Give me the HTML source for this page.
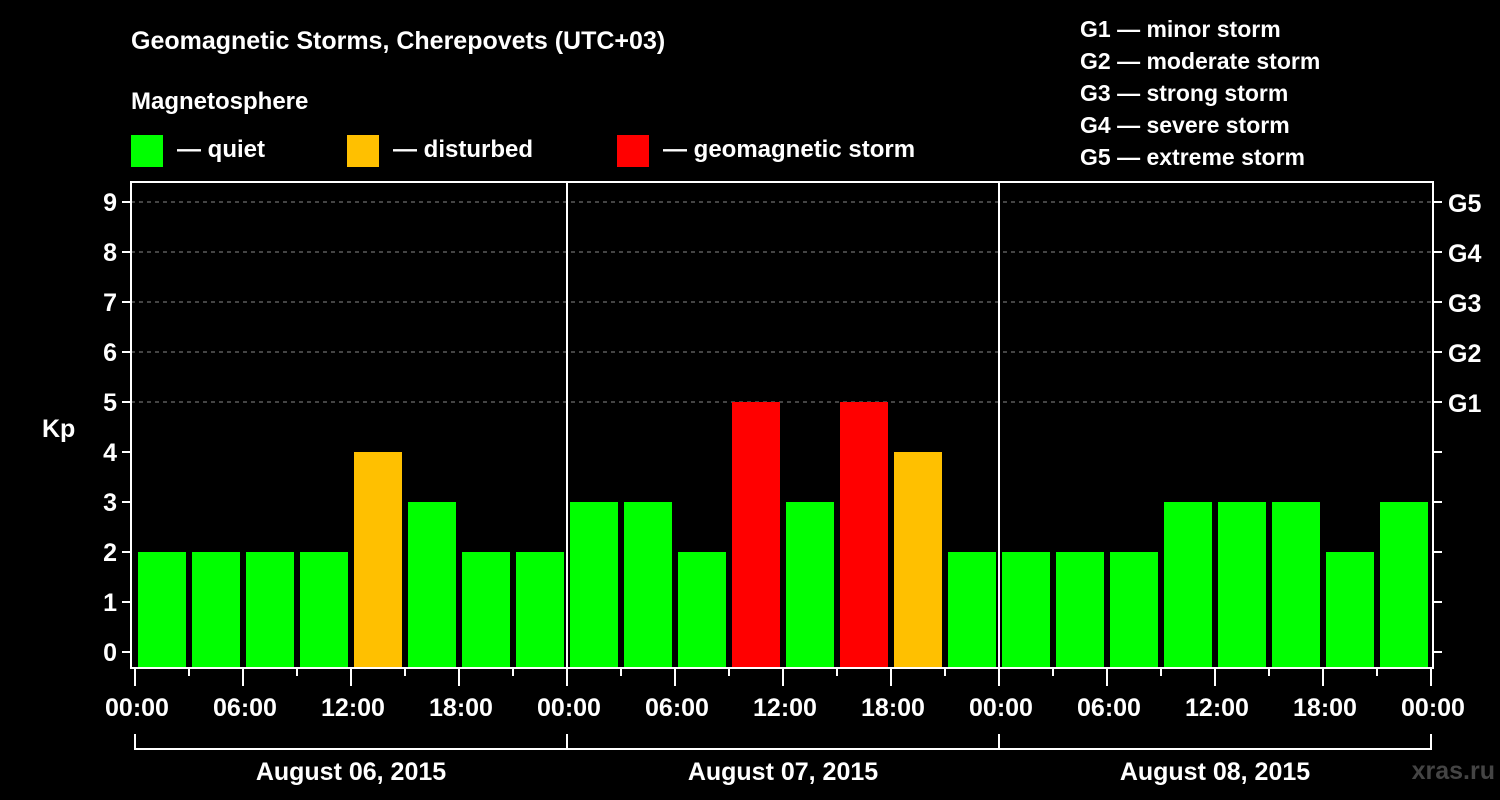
<!DOCTYPE html>
<html><head><meta charset="utf-8"><style>
body{margin:0;background:#000;width:1500px;height:800px;overflow:hidden}
svg{display:block;font-family:"Liberation Sans",sans-serif;font-weight:bold}
</style></head><body>
<svg id="c" width="1500" height="800">
<text x="131" y="49" fill="#fff" font-size="25">Geomagnetic Storms, Cherepovets (UTC+03)</text>
<text x="131" y="109" fill="#fff" font-size="24">Magnetosphere</text>
<g><rect x="131" y="135" width="32" height="32" fill="#00ff00"/><text x="177" y="157" fill="#fff" font-size="24">— quiet</text></g>
<g><rect x="347" y="135" width="32" height="32" fill="#ffc000"/><text x="393" y="157" fill="#fff" font-size="24">— disturbed</text></g>
<g><rect x="617" y="135" width="32" height="32" fill="#ff0000"/><text x="663" y="157" fill="#fff" font-size="24">— geomagnetic storm</text></g>
<g fill="#fff" font-size="23">
<text x="1080" y="37">G1 — minor storm</text><text x="1080" y="69">G2 — moderate storm</text><text x="1080" y="101">G3 — strong storm</text><text x="1080" y="133">G4 — severe storm</text><text x="1080" y="165">G5 — extreme storm</text></g>
<text x="42" y="437" fill="#fff" font-size="25">Kp</text>
<text x="1495" y="779" fill="#444" font-size="25" text-anchor="end">xras.ru</text>
<g id="g"></g>
</svg>
<script>
const kp=[2,2,2,2,4,3,2,2, 3,3,2,5,3,5,4,2, 2,2,2,3,3,3,2,3];
const days=["August 06, 2015","August 07, 2015","August 08, 2015"];
const timeLabels=["00:00","06:00","12:00","18:00"];
const gLabels=["G1","G2","G3","G4","G5"];
const NS="http://www.w3.org/2000/svg",g=document.getElementById('g');
const X0=135,STEP=54,L=131,R=1433,T=182,B=668;
const y=v=>652-v*50, x=i=>X0+i*STEP;
function el(t,a,txt){const e=document.createElementNS(NS,t);for(const k in a)e.setAttribute(k,a[k]);if(txt!=null)e.textContent=txt;g.appendChild(e);return e;}
for(let v=5;v<=9;v++){const e=el('line',{x1:L,x2:R,y1:y(v),y2:y(v),stroke:'#888','stroke-dasharray':'4,4'});

}
kp.forEach((v,i)=>{const c=v>=5?'#ff0000':v==4?'#ffc000':'#00ff00';
const r=el('rect',{x:x(i)+3,y:y(v),width:48,height:B-y(v),fill:c});

});
const f=el('rect',{x:L,y:T,width:R-L,height:B-T,fill:'none',stroke:'#fff','stroke-width':2});


for(let d=1;d<3;d++){const l=el('line',{x1:x(d*8),x2:x(d*8),y1:T,y2:B,stroke:'#fff','stroke-width':2});

}
for(let v=0;v<=9;v++){
el('line',{x1:122,x2:L,y1:y(v),y2:y(v),stroke:'#fff','stroke-width':2});
el('line',{x1:R,x2:R+9,y1:y(v),y2:y(v),stroke:'#fff','stroke-width':2});
const t=el('text',{x:117,y:y(v)+9,fill:'#fff','font-size':25,'text-anchor':'end'},v);

}
gLabels.forEach((s,i)=>{const t=el('text',{x:1448,y:y(i+5)+10,fill:'#fff','font-size':25},s);

});
for(let i=0;i<=24;i++){el('line',{x1:x(i),x2:x(i),y1:B,y2:i%2?676:686,stroke:'#fff','stroke-width':2});}
for(let i=0;i<=12;i++){const t=el('text',{x:x(i*2)+2,y:716,fill:'#fff','font-size':25,'text-anchor':'middle'},timeLabels[i%4]);

}
el('line',{x1:x(0),x2:x(24),y1:749,y2:749,stroke:'#fff','stroke-width':2});
for(let d=0;d<=3;d++)el('line',{x1:x(d*8),x2:x(d*8),y1:734,y2:750,stroke:'#fff','stroke-width':2});
days.forEach((s,d)=>{const t=el('text',{x:x(d*8+4),y:780,fill:'#fff','font-size':25,'text-anchor':'middle'},s);

});
</script>
</body></html>
